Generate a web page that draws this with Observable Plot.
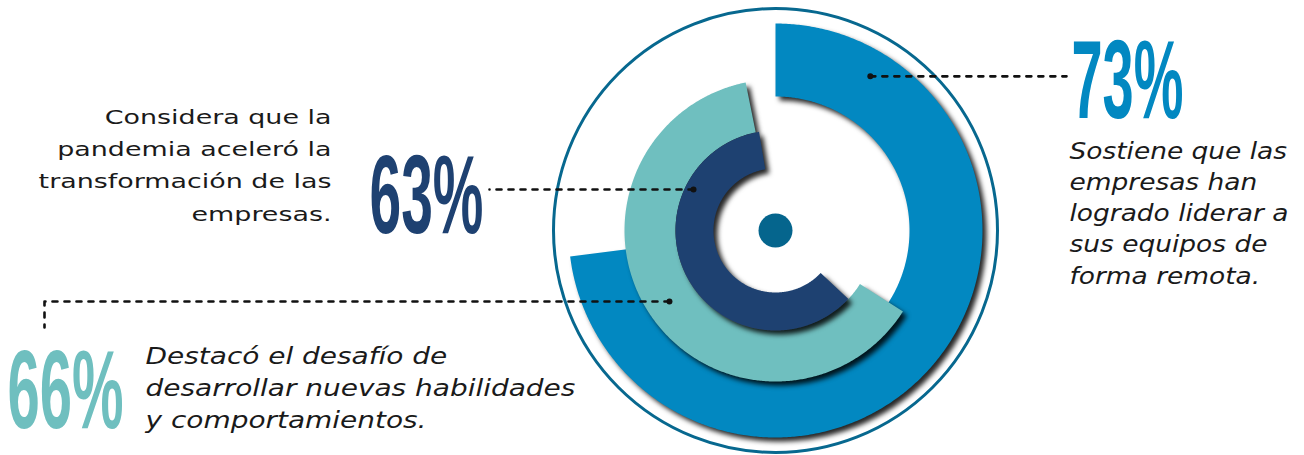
<!DOCTYPE html>
<html>
<head>
<meta charset="utf-8">
<script src="https://cdn.jsdelivr.net/npm/d3@7"></script>
<script src="https://cdn.jsdelivr.net/npm/@observablehq/plot@0.6"></script>
<style>
  html, body { margin: 0; padding: 0; background: #ffffff; }
  #chart svg { display: block; }
</style>
</head>
<body>
<div id="chart"></div>
<script>
// ---------- DATA ----------
const labels = ["73%", "66%", "63%"];
const values = [73, 66, 63];
const descriptions = [
  ["Sostiene que las", "empresas han", "logrado liderar a", "sus equipos de", "forma remota."],
  ["Destacó el desafío de", "desarrollar nuevas habilidades", "y comportamientos."],
  ["Considera que la", "pandemia aceleró la", "transformación de las", "empresas."]
];

// ---------- STYLE / LAYOUT ----------
const W = 1304, H = 455;
const cx = 775, cy = 230;
const ringColors = ["#0288c1", "#6fbfbf", "#1e4171"];
const ringInner = [134, 100, 62];
const ringOuter = [207, 151, 100];
const ringDir = [1, -1, -1];          // 1 = clockwise, -1 = counter-clockwise
const ringStartGap = [0, 11.4, 9.5];  // degrees from 12 o'clock
const leaderAngle = [31.6, 123.8, 63.4];
const leaderRadius = [181, 127.6, 91.7];
const leaderEndX = [1066, 44, 489];
const leaderDropY = [null, 327, null];
const labelPos = [{x: 1071, y: 117}, {x: 7, y: 427}, {x: 369, y: 232}];
const labelWidth = [112, 116, 114];
const descPos = [
  {x: 1069, y: 283, anchor: "start", size: 23, width: 219, lh: 31.25, style: "italic"},
  {x: 145, y: 427, anchor: "start", size: 23, width: 430, lh: 32, style: "italic"},
  {x: 331, y: 220, anchor: "end", size: 20, width: 293, lh: 32.2, style: "normal"}
];

const rad = (d) => d * Math.PI / 180;
const polar = (ring, a, r) => {
  const t = rad(ringDir[ring] * a);
  return {ring, x: cx + r * Math.sin(t), y: cy - r * Math.cos(t)};
};

// arc polygons built from the values
const arcRows = values.map((v, i) => {
  const a0 = ringStartGap[i], a1 = v / 100 * 360;
  const n = Math.ceil((a1 - a0) / 0.5);
  const pts = [];
  for (let k = 0; k <= n; ++k) pts.push(polar(i, a0 + (a1 - a0) * k / n, ringOuter[i]));
  for (let k = n; k >= 0; --k) pts.push(polar(i, a0 + (a1 - a0) * k / n, ringInner[i]));
  return pts;
});

// leader lines
const leaderDots = values.map((v, i) => polar(i, leaderAngle[i], leaderRadius[i]));
const leaderRows = [];
leaderDots.forEach((d, i) => {
  leaderRows.push({ring: i, x: d.x, y: d.y});
  leaderRows.push({ring: i, x: leaderEndX[i], y: d.y});
  if (leaderDropY[i] != null) leaderRows.push({ring: i, x: leaderEndX[i], y: leaderDropY[i]});
});

const marks = [];
marks.push(Plot.dot([{x: cx, y: cy}], {x: "x", y: "y", r: 222, fill: "none", stroke: "#07688f", strokeWidth: 3}));
arcRows.forEach((rows, i) => {
  marks.push(Plot.line(rows, {x: "x", y: "y", fill: ringColors[i], stroke: "none", curve: "linear-closed", ariaDescription: "ring"}));
});
marks.push(Plot.dot([{x: cx, y: cy}], {x: "x", y: "y", r: 17, fill: "#05658d", stroke: "none"}));
marks.push(Plot.line(leaderRows, {x: "x", y: "y", z: "ring", stroke: "#111", strokeWidth: 2.6, strokeDasharray: "5,7", curve: "linear"}));
marks.push(Plot.dot(leaderDots, {x: "x", y: "y", r: 3, fill: "#111", stroke: "none"}));
labels.forEach((lab, i) => {
  marks.push(Plot.text([lab], {
    x: () => labelPos[i].x, y: () => labelPos[i].y, text: (d) => d,
    fontFamily: "Liberation Sans", fontWeight: "bold", fontSize: 112,
    fill: ringColors[i], textAnchor: "start", lineAnchor: "bottom", ariaDescription: "big-" + i
  }));
});
descriptions.forEach((lines, i) => {
  const p = descPos[i];
  marks.push(Plot.text([lines.join("\n")], {
    x: () => p.x, y: () => p.y, text: (d) => d,
    fontFamily: "DejaVu Sans", fontSize: p.size, fontStyle: p.style,
    lineHeight: p.lh / p.size, fill: "#1a1a1a", textAnchor: p.anchor, lineAnchor: "bottom",
    ariaDescription: "desc-" + i
  }));
});

const chart = Plot.plot({
  width: W, height: H, margin: 0,
  x: {domain: [0, W], range: [0, W], axis: null},
  y: {domain: [0, H], range: [0, H], axis: null},
  style: {background: "#ffffff", overflow: "visible"},
  marks
});
document.getElementById("chart").append(chart);

// post-styling (shadows, condensed/expanded type)
const groups = Array.from(chart.querySelectorAll(":scope > g"));
const groupFor = (desc, idx) => chart.querySelector(`g[aria-description="${desc}"]`) ? null : groups[idx];
const ringGroups = chart.querySelectorAll('g[aria-description="ring"]').length
  ? Array.from(chart.querySelectorAll('g[aria-description="ring"]'))
  : [groups[1], groups[2], groups[3]];
ringGroups.forEach((g) => g.style.filter = "drop-shadow(4px 4px 2.5px rgba(0,0,0,0.85))");

function fitWidth(g, target) {
  if (!g) return;
  g.querySelectorAll("text").forEach((t) => {
    const spans = t.querySelectorAll("tspan");
    let w = 0;
    if (spans.length) spans.forEach((s) => { w = Math.max(w, s.getComputedTextLength()); });
    else w = t.getComputedTextLength();
    if (w > 0) {
      const tr = t.getAttribute("transform") || "";
      t.setAttribute("transform", tr + ` scale(${target / w},1)`);
    }
  });
}
labels.forEach((lab, i) => {
  const g = chart.querySelector(`g[aria-description="big-${i}"]`) || groups[6 + i];
  fitWidth(g, labelWidth[i]);
});
descriptions.forEach((lines, i) => {
  const g = chart.querySelector(`g[aria-description="desc-${i}"]`) || groups[9 + i];
  fitWidth(g, descPos[i].width);
});
</script>
</body>
</html>
